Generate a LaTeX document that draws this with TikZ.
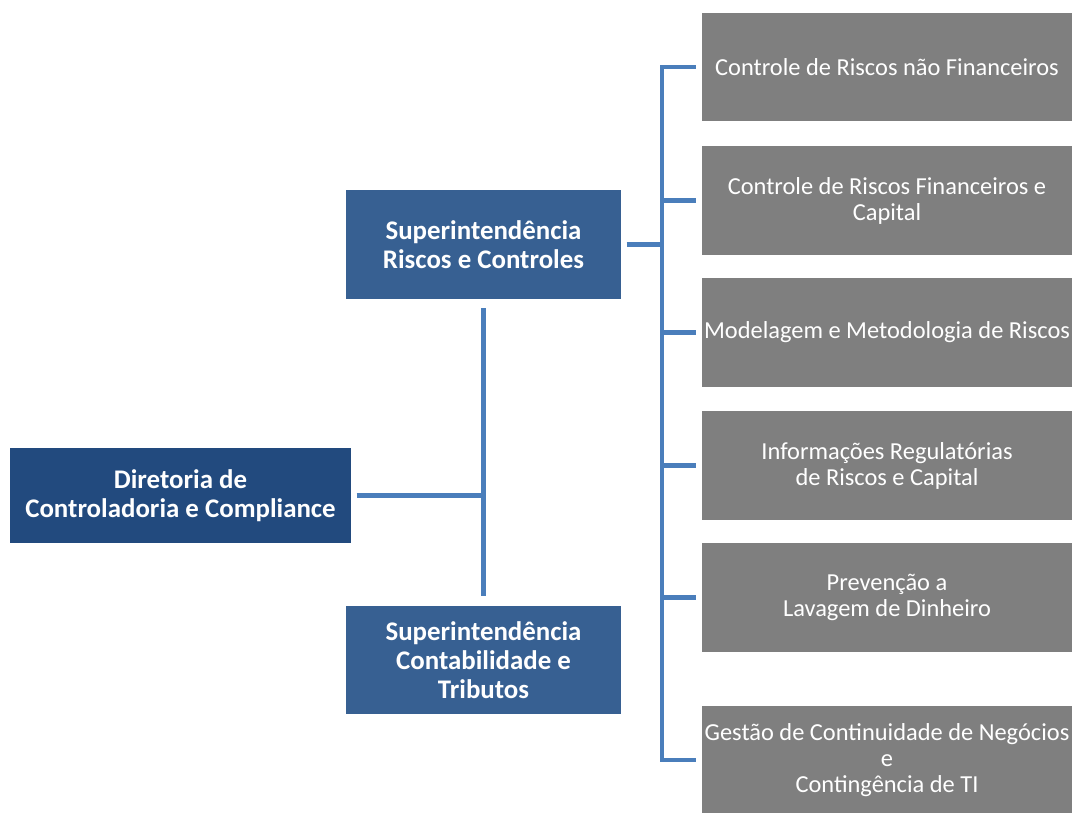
\documentclass[tikz,border=0pt]{standalone}
\usepackage{fontspec}
\setmainfont{Carlito}
\usetikzlibrary{calc}
\definecolor{dirblue}{RGB}{34,74,126}
\definecolor{supblue}{RGB}{55,96,146}
\definecolor{linkblue}{RGB}{74,126,187}
\definecolor{areagray}{RGB}{127,127,127}

\begin{document}
\begin{tikzpicture}[x=0.02cm,y=-0.02cm,
    dirbox/.style={fill=dirblue,text=white,align=center,inner sep=0pt,
      font=\fontsize{15.3}{16.2}\selectfont\bfseries,minimum width=6.82cm,minimum height=1.9cm},
    supbox/.style={fill=supblue,text=white,align=center,inner sep=0pt,
      font=\fontsize{15.3}{16.5}\selectfont\bfseries,minimum width=5.5cm,minimum height=2.18cm},
    areabox/.style={fill=areagray,text=white,align=center,inner sep=0pt,
      font=\fontsize{13.9}{14.8}\selectfont,minimum width=7.4cm,minimum height=2.18cm},
    link/.style={draw=linkblue,line width=2.4pt}]
        \useasboundingbox (0,0) rectangle (1072,813);

        % diretoria e superintendencias
        \node[dirbox] (dir) at (180.5,495.5) {Diretoria de\\Controladoria e Compliance};
        \node[supbox] (riscos) at (483.5,244.5) {Superintendência\\Riscos e Controles};
        \node[supbox] (contab) at (483.5,660) {Superintendência\\Contabilidade e\\Tributos};

        % areas de riscos e controles
        \node[areabox] (a1) at (887,67) {Controle de Riscos não Financeiros};
        \node[areabox] (a2) at (887,200.5) {Controle de Riscos Financeiros e\\Capital};
        \node[areabox] (a3) at (887,332.5) {Modelagem e Metodologia de Riscos};
        \node[areabox] (a4) at (887,465.5) {Informações Regulatórias\\de Riscos e Capital};
        \node[areabox] (a5) at (887,597.5) {Prevenção a\\Lavagem de Dinheiro};
        \node[areabox] (a6) at (887,760) {Gestão de Continuidade de Negócios\\e\\Contingência de TI};

        % ligacoes
        \draw[link,shorten <=5pt,shorten >=5pt] (riscos.south) -- (contab.north);
        \draw[link,shorten <=3pt] (dir.east) -- (dir.east -| riscos.south);

        \coordinate (bus) at (662,244.5);
        \draw[link,shorten <=3pt] (riscos.east) -- (bus);
        \draw[link,line cap=rect] (a1.west -| bus) -- (a6.west -| bus);
        \foreach \a in {a1,a2,a3,a4,a5,a6}
          \draw[link,shorten >=3pt] (\a.west -| bus) -- (\a.west);
      \end{tikzpicture}
\end{document}
